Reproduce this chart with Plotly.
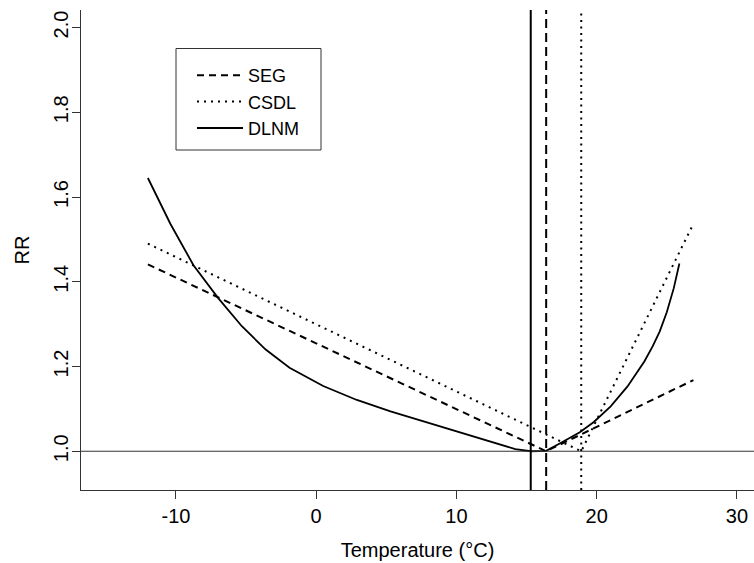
import plotly.graph_objects as go

# ---- data ----
seg_temp = [-12.0, 16.4, 26.9]
seg_rr = [1.441, 1.0, 1.168]

csdl_temp = [-12.0, 18.9, 26.9]
csdl_rr = [1.490, 1.0, 1.537]

dlnm_temp = [-12.0, -10.4, -8.75, -7.0, -5.3, -3.6, -1.9, 0.5, 2.9, 5.3, 7.6, 9.6,
             12.0, 14.2, 15.3, 16.4, 17.4, 18.8, 19.8, 21.0, 22.2, 23.4, 24.0, 24.5,
             25.0, 25.5, 25.9]
dlnm_rr = [1.645, 1.537, 1.439, 1.362, 1.295, 1.240, 1.197, 1.154, 1.121, 1.094, 1.071, 1.051,
           1.027, 1.005, 1.000, 1.001, 1.019, 1.045, 1.069, 1.106, 1.153, 1.212, 1.248, 1.283,
           1.328, 1.385, 1.443]

# minimum-mortality temperatures (vertical reference lines)
mmt_dlnm = 15.3
mmt_seg = 16.4
mmt_csdl = 18.9
ref_rr = 1.0

x_ticks = [-10, 0, 10, 20, 30]
x_tick_labels = ["-10", "0", "10", "20", "30"]
y_ticks = [1.0, 1.2, 1.4, 1.6, 1.8, 2.0]
y_tick_labels = ["1.0", "1.2", "1.4", "1.6", "1.8", "2.0"]

FONT = "Liberation Sans, Arial, sans-serif"
FS = 20

fig = go.Figure()
fig.add_trace(go.Scatter(x=seg_temp, y=seg_rr, mode="lines", name="SEG",
                         line=dict(color="black", width=2, dash="7px,5px")))
fig.add_trace(go.Scatter(x=csdl_temp, y=csdl_rr, mode="lines", name="CSDL",
                         line=dict(color="black", width=2, dash="2px,5px")))
fig.add_trace(go.Scatter(x=dlnm_temp, y=dlnm_rr, mode="lines", name="DLNM",
                         line=dict(color="black", width=1.8)))

# reference lines
fig.add_hline(y=ref_rr, line=dict(color="#333333", width=1))
fig.add_vline(x=mmt_dlnm, line=dict(color="black", width=2))
fig.add_vline(x=mmt_seg, line=dict(color="black", width=2, dash="9px,5px"))
fig.add_vline(x=mmt_csdl, line=dict(color="black", width=2, dash="2px,4.5px"))

# legend box
W, H = 754, 563
ml, mr, mt, mb = 81, 0, 10, 73
pw, ph = W - ml - mr, H - mt - mb
def px_x(p):
    return (p - ml) / pw
def px_y(p):
    return (H - mb - p) / ph

fig.add_shape(type="rect", xref="paper", yref="paper",
              x0=px_x(176), x1=px_x(321), y0=px_y(150), y1=px_y(48.5),
              line=dict(color="#333333", width=1), fillcolor="rgba(0,0,0,0)")

fig.update_layout(
    width=W, height=H, autosize=False,
    margin=dict(l=ml, r=mr, t=mt, b=mb, pad=0),
    paper_bgcolor="white", plot_bgcolor="white",
    font=dict(family=FONT, size=FS, color="black"),
    showlegend=True,
    legend=dict(x=px_x(192), y=px_y(57), xanchor="left", yanchor="top",
                bgcolor="rgba(0,0,0,0)", borderwidth=0,
                itemwidth=46, font=dict(family=FONT, size=18, color="black")),
    xaxis=dict(range=[-16.77, 31.22], tickmode="array", tickvals=x_ticks,
               ticktext=x_tick_labels, automargin=False,
               ticks="outside", ticklen=8, tickcolor="#333333", tickwidth=1,
               showline=True, linecolor="#333333", linewidth=1, mirror=False,
               showgrid=False, zeroline=False,
               title=dict(text="Temperature (°C)", standoff=16,
                          font=dict(family=FONT, size=FS))),
    yaxis=dict(range=[0.9085, 2.0415], tickmode="array", tickvals=y_ticks,
               ticktext=y_tick_labels, tickangle=-90, automargin=False,
               ticklabelstandoff=-4,
               ticks="outside", ticklen=8, tickcolor="#333333", tickwidth=1,
               showline=True, linecolor="#333333", linewidth=1, mirror=False,
               showgrid=False, zeroline=False,
               title=dict(text="RR", standoff=15,
                          font=dict(family=FONT, size=FS))),
)

fig.write_html("out.html", config={"displayModeBar": False},
               post_script="document.body.style.margin='0';")
